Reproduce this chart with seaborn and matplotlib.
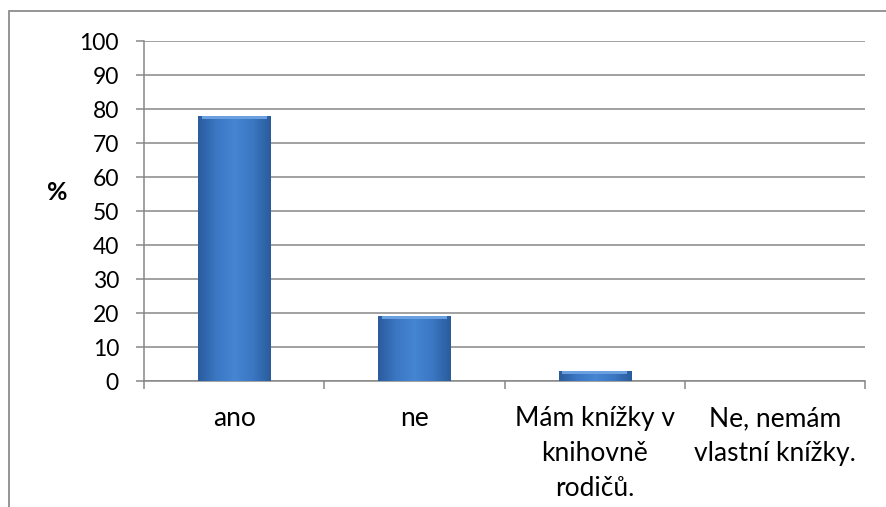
import numpy as np
import pandas as pd
import seaborn as sns
import matplotlib.pyplot as plt
from matplotlib.patches import Rectangle
from matplotlib.colors import LinearSegmentedColormap

# data
categories = ["ano", "ne", "Mám knížky v\nknihovně\nrodičů.", "Ne, nemám\nvlastní knížky."]
values = [78, 19, 3, 0]
yticks = list(range(0, 101, 10))

df = pd.DataFrame({"odpoved": categories, "procent": values})

sns.set_theme(style="white")
plt.rcParams['font.family'] = ['Lato', 'DejaVu Sans']

fig = plt.figure(figsize=(8.86, 5.07), dpi=100)
ax = fig.add_axes([144/886, 1 - 381/507, 721/886, 340/507])

grid_col = "#878787"

sns.barplot(data=df, x="odpoved", y="procent", ax=ax, color="#3F7DCB",
            width=0.4, saturation=1, edgecolor="none", zorder=3)

# bevel-ish gradient on each bar (horizontal dark-light-dark)
cmap = LinearSegmentedColormap.from_list("bev", ["#2A5C9C", "#3B77C3", "#4585D2", "#3B77C3", "#2A5C9C"])
grad = np.linspace(0, 1, 256).reshape(1, -1)
for p in ax.patches:
    x0, w, h = p.get_x(), p.get_width(), p.get_height()
    if h <= 0:
        continue
    im = ax.imshow(grad, cmap=cmap, aspect="auto", extent=[x0, x0 + w, 0, h], zorder=4)
    im.set_clip_path(p)
    # lighter top edge
    top = min(0.9, h * 0.3)
    ax.add_patch(Rectangle((x0 + w * 0.05, h - top), w * 0.9, top,
                           facecolor="#6A9FE0", edgecolor="none", zorder=5))

ax.set_xlim(-0.5, 3.5)
ax.set_ylim(0, 100)
ax.set_yticks(yticks)
ax.set_xlabel("")
ax.set_ylabel("%", rotation=0, fontsize=18, fontweight="bold", color="black",
              va="center", ha="center")
ax.yaxis.set_label_coords(-0.1207, 0.555)

ax.grid(axis="y", color=grid_col, linewidth=1.1, zorder=0)
ax.set_axisbelow(True)
for s in ["top", "right"]:
    ax.spines[s].set_visible(False)
for s in ["left", "bottom"]:
    ax.spines[s].set_color(grid_col)
    ax.spines[s].set_linewidth(1.1)

ax.tick_params(axis="y", direction="out", length=6, width=1.1, color=grid_col,
               labelsize=16.5, labelcolor="black", pad=12, left=True)
ax.set_xticks([0, 1, 2, 3])
ax.set_xticklabels(categories, fontsize=19, color="black", linespacing=1.5, va="top")
ax.set_xticks([-0.5, 0.5, 1.5, 2.5, 3.5], minor=True)
ax.tick_params(axis="x", which="major", length=0, pad=18)
ax.tick_params(axis="x", which="minor", direction="out", length=6, width=1.1,
               color=grid_col, bottom=True)

# outer chart frame (only left and top visible in the crop)
fig.add_artist(Rectangle((9/886, -0.1), 1.2, (507 - 11)/507 + 0.1,
                         transform=fig.transFigure, fill=False,
                         edgecolor="#8C8C8C", linewidth=1.3))

fig.savefig("out.png", dpi=100)
